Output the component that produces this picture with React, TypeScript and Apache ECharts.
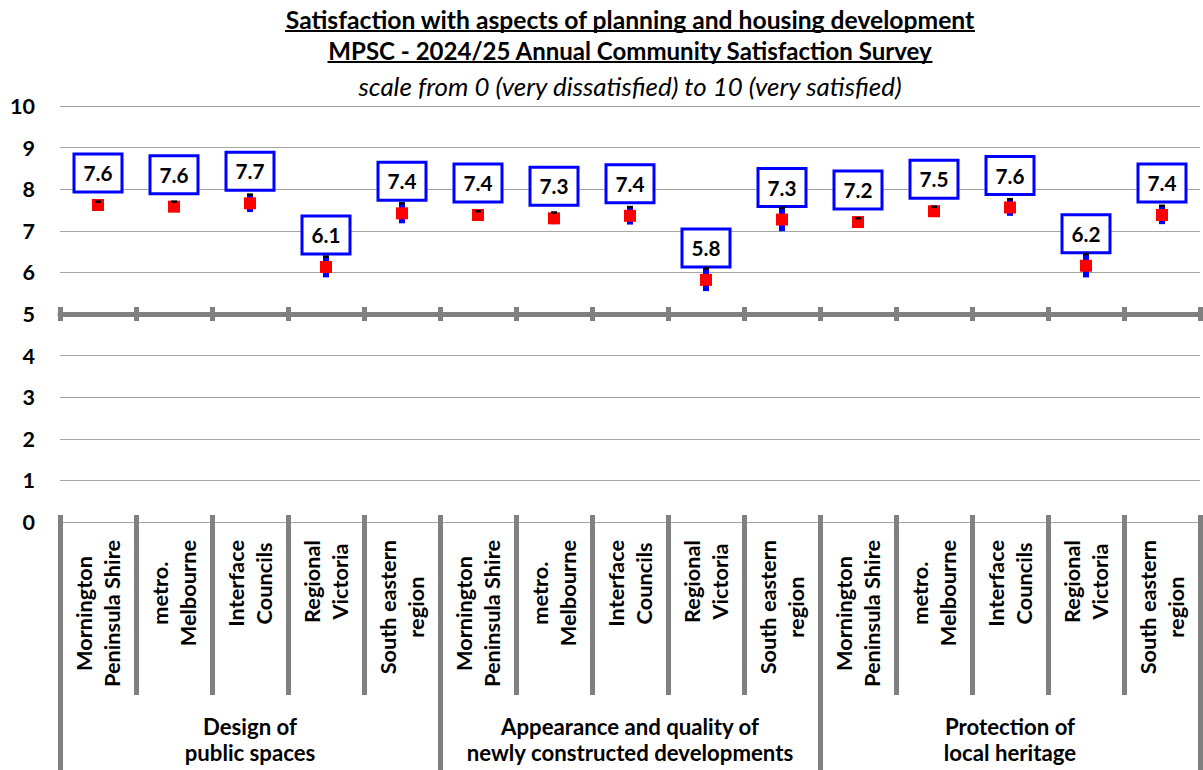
import React, { useEffect, useRef } from "react";
import * as echarts from "echarts";

// ---- data ----
const titleLines = [
  "Satisfaction with aspects of planning and housing development",
  "MPSC - 2024/25 Annual Community Satisfaction Survey",
  "scale from 0 (very dissatisfied) to 10 (very satisfied)",
];
const groups = [
  "Design of\npublic spaces",
  "Appearance and quality of\nnewly constructed developments",
  "Protection of\nlocal heritage",
];
const regions = [
  "Mornington\nPeninsula Shire",
  "metro.\nMelbourne",
  "Interface\nCouncils",
  "Regional\nVictoria",
  "South eastern\nregion",
];
// mean index score per region, one array per aspect
const designMeans = [7.62, 7.58, 7.66, 6.13, 7.42];
const appearanceMeans = [7.38, 7.3, 7.36, 5.82, 7.27];
const heritageMeans = [7.21, 7.47, 7.56, 6.16, 7.38];
// 95% confidence interval half-widths
const designMargins = [0.08, 0.12, 0.21, 0.25, 0.24];
const appearanceMargins = [0.09, 0.14, 0.21, 0.27, 0.28];
const heritageMargins = [0.09, 0.11, 0.2, 0.28, 0.22];
const scaleMin = 0;
const scaleMax = 10;
const scaleStep = 1;
const breakValue = 5;

// ---- derived series ----
const categories = groups.flatMap(() => regions);
const means = [...designMeans, ...appearanceMeans, ...heritageMeans];
const margins = [...designMargins, ...appearanceMargins, ...heritageMargins];
const ciRows = means.map((m, i) => [i, m - margins[i], m + margins[i]]);
const capRows = means.map((m, i) => [i, m + margins[i]]);

// ---- layout ----
const W = 1203;
const H = 770;
const GRID = { left: 60, right: 3, top: 106, bottom: 248 };
const plotH = H - GRID.top - GRID.bottom;
const breakY = GRID.top + (plotH * (scaleMax - breakValue)) / (scaleMax - scaleMin);
const centerX = GRID.left + (W - GRID.left - GRID.right) / 2;
const FAMILY = 'Lato, "Noto Sans", "DejaVu Sans", sans-serif';
const GRAY = "#808080";
const BLUE = "#0000FF";

// font size that makes a text span the given width
function fitSize(text: string, style: string, width: number, fallback: number) {
  try {
    const ctx = document.createElement("canvas").getContext("2d");
    if (!ctx) return fallback;
    ctx.font = `${style} 100px ${FAMILY}`;
    const w = ctx.measureText(text).width;
    return w > 0 ? (100 * width) / w : fallback;
  } catch {
    return fallback;
  }
}

export default function App() {
  const ref = useRef<HTMLDivElement>(null);

  useEffect(() => {
    if (!ref.current) return;
    const chart = echarts.init(ref.current, null, { renderer: "svg" });

    const titleSpans = [690, 605, 545];
    const titleStyles = ["bold", "bold", "italic"];
    const titleMid = [19.5, 50.5, 85.5];
    const underlineY = [31, 62];
    const titleSizes = titleLines.map((t, i) => fitSize(t, titleStyles[i], titleSpans[i], 22));
    const ySize = fitSize("10", "bold", 25, 22);
    const valueSize = fitSize("7.6", "bold", 29, 23);
    const catSize = fitSize("Peninsula Shire", "bold", 147, 22);
    const groupSize = fitSize("newly constructed developments", "bold", 327, 22);

    const graphic: any[] = [];
    titleLines.forEach((t, i) => {
      graphic.push({
        type: "text",
        x: centerX,
        y: titleMid[i],
        silent: true,
        style: {
          text: t,
          fill: "#000",
          fontFamily: FAMILY,
          fontSize: titleSizes[i],
          fontWeight: titleStyles[i] === "bold" ? "bold" : "normal",
          fontStyle: titleStyles[i] === "italic" ? "italic" : "normal",
          align: "center",
          verticalAlign: "middle",
          textAlign: "center",
          textVerticalAlign: "middle",
        },
      });
      if (i < underlineY.length) {
        graphic.push({
          type: "line",
          silent: true,
          shape: {
            x1: centerX - titleSpans[i] / 2,
            y1: underlineY[i],
            x2: centerX + titleSpans[i] / 2,
            y2: underlineY[i],
          },
          style: { stroke: "#000", lineWidth: 2 },
        });
      }
    });

    const catRich = {
      c: {
        align: "center",
        fontSize: catSize,
        fontWeight: "bold",
        fontFamily: FAMILY,
        color: "#000",
        lineHeight: 28,
      },
    };

    chart.setOption({
      animation: false,
      backgroundColor: "#fff",
      textStyle: { fontFamily: FAMILY },
      graphic,
      grid: { ...GRID, containLabel: false },
      xAxis: [
        {
          type: "category",
          data: categories,
          position: "bottom",
          offset: -7,
          axisLine: { show: false },
          axisTick: { show: true, interval: 0, length: 180, lineStyle: { color: GRAY, width: 5 } },
          axisLabel: {
            interval: 0,
            rotate: 90,
            margin: 25,
            fontSize: catSize,
            fontWeight: "bold",
            color: "#000",
            lineHeight: 28,
            formatter: (v: string) =>
              v
                .split("\n")
                .map((s) => `{c|${s}}`)
                .join("\n"),
            rich: catRich,
          },
          splitLine: { show: false },
        },
        {
          type: "category",
          data: groups,
          position: "bottom",
          offset: -7,
          axisLine: { show: false },
          axisTick: { show: true, interval: 0, length: 262, lineStyle: { color: GRAY, width: 5 } },
          axisLabel: {
            interval: 0,
            margin: 198,
            fontSize: groupSize,
            fontWeight: "bold",
            color: "#000",
            lineHeight: 26,
            align: "center",
          },
          splitLine: { show: false },
        },
        {
          // scale break line across the plot
          type: "category",
          data: categories,
          position: "top",
          offset: -(breakY - GRID.top),
          axisLine: { show: true, lineStyle: { color: GRAY, width: 5 } },
          axisTick: { show: false },
          axisLabel: { show: false },
          splitLine: { show: false },
        },
        {
          // ticks crossing the break line
          type: "category",
          data: categories,
          position: "top",
          offset: -(breakY - 7 - GRID.top),
          axisLine: { show: false },
          axisTick: { show: true, inside: true, interval: 0, length: 14, lineStyle: { color: GRAY, width: 5 } },
          axisLabel: { show: false },
          splitLine: { show: false },
        },
      ],
      yAxis: {
        type: "value",
        min: scaleMin,
        max: scaleMax,
        interval: scaleStep,
        axisLine: { show: false },
        axisTick: { show: false },
        splitLine: { show: true, lineStyle: { color: "#A6A6A6", width: 1 } },
        axisLabel: {
          margin: 25,
          fontSize: ySize,
          fontWeight: "bold",
          color: "#000",
        },
      },
      series: [
        {
          type: "custom",
          name: "CI",
          xAxisIndex: 0,
          yAxisIndex: 0,
          z: 2,
          encode: { x: 0, y: [1, 2] },
          data: ciRows,
          renderItem: (params: any, api: any) => {
            const top = api.coord([api.value(0), api.value(2)]);
            const bottom = api.coord([api.value(0), api.value(1)]);
            return {
              type: "rect",
              shape: { x: top[0] - 3, y: top[1], width: 6, height: bottom[1] - top[1] },
              style: { fill: BLUE, opacity: 1 },
            };
          },
        },
        {
          type: "scatter",
          name: "Mean",
          xAxisIndex: 0,
          yAxisIndex: 0,
          z: 3,
          data: means,
          symbol: "rect",
          symbolSize: 12,
          itemStyle: { color: "#FF0000", opacity: 1 },
          emphasis: { disabled: true },
          label: {
            show: true,
            position: "top",
            distance: 8.5,
            formatter: (p: any) => Number(p.value).toFixed(1),
            fontSize: valueSize,
            fontWeight: "bold",
            fontFamily: FAMILY,
            color: "#000",
            opacity: 1,
            lineHeight: 29,
            backgroundColor: "#fff",
            borderColor: BLUE,
            borderWidth: 3,
            padding: [3, 8],
          },
        },
        {
          type: "custom",
          name: "CI cap",
          xAxisIndex: 0,
          yAxisIndex: 0,
          z: 4,
          encode: { x: 0, y: 1 },
          data: capRows,
          renderItem: (params: any, api: any) => {
            const p = api.coord([api.value(0), api.value(1)]);
            return {
              type: "rect",
              shape: { x: p[0] - 3, y: p[1] - 1.25, width: 6, height: 2.5 },
              style: { fill: "#000", opacity: 1 },
            };
          },
        },
      ],
    });

    return () => chart.dispose();
  }, []);

  return (
    <div
      ref={ref}
      style={{ position: "absolute", left: 0, top: 0, width: W, height: H, background: "#fff" }}
    />
  );
}
